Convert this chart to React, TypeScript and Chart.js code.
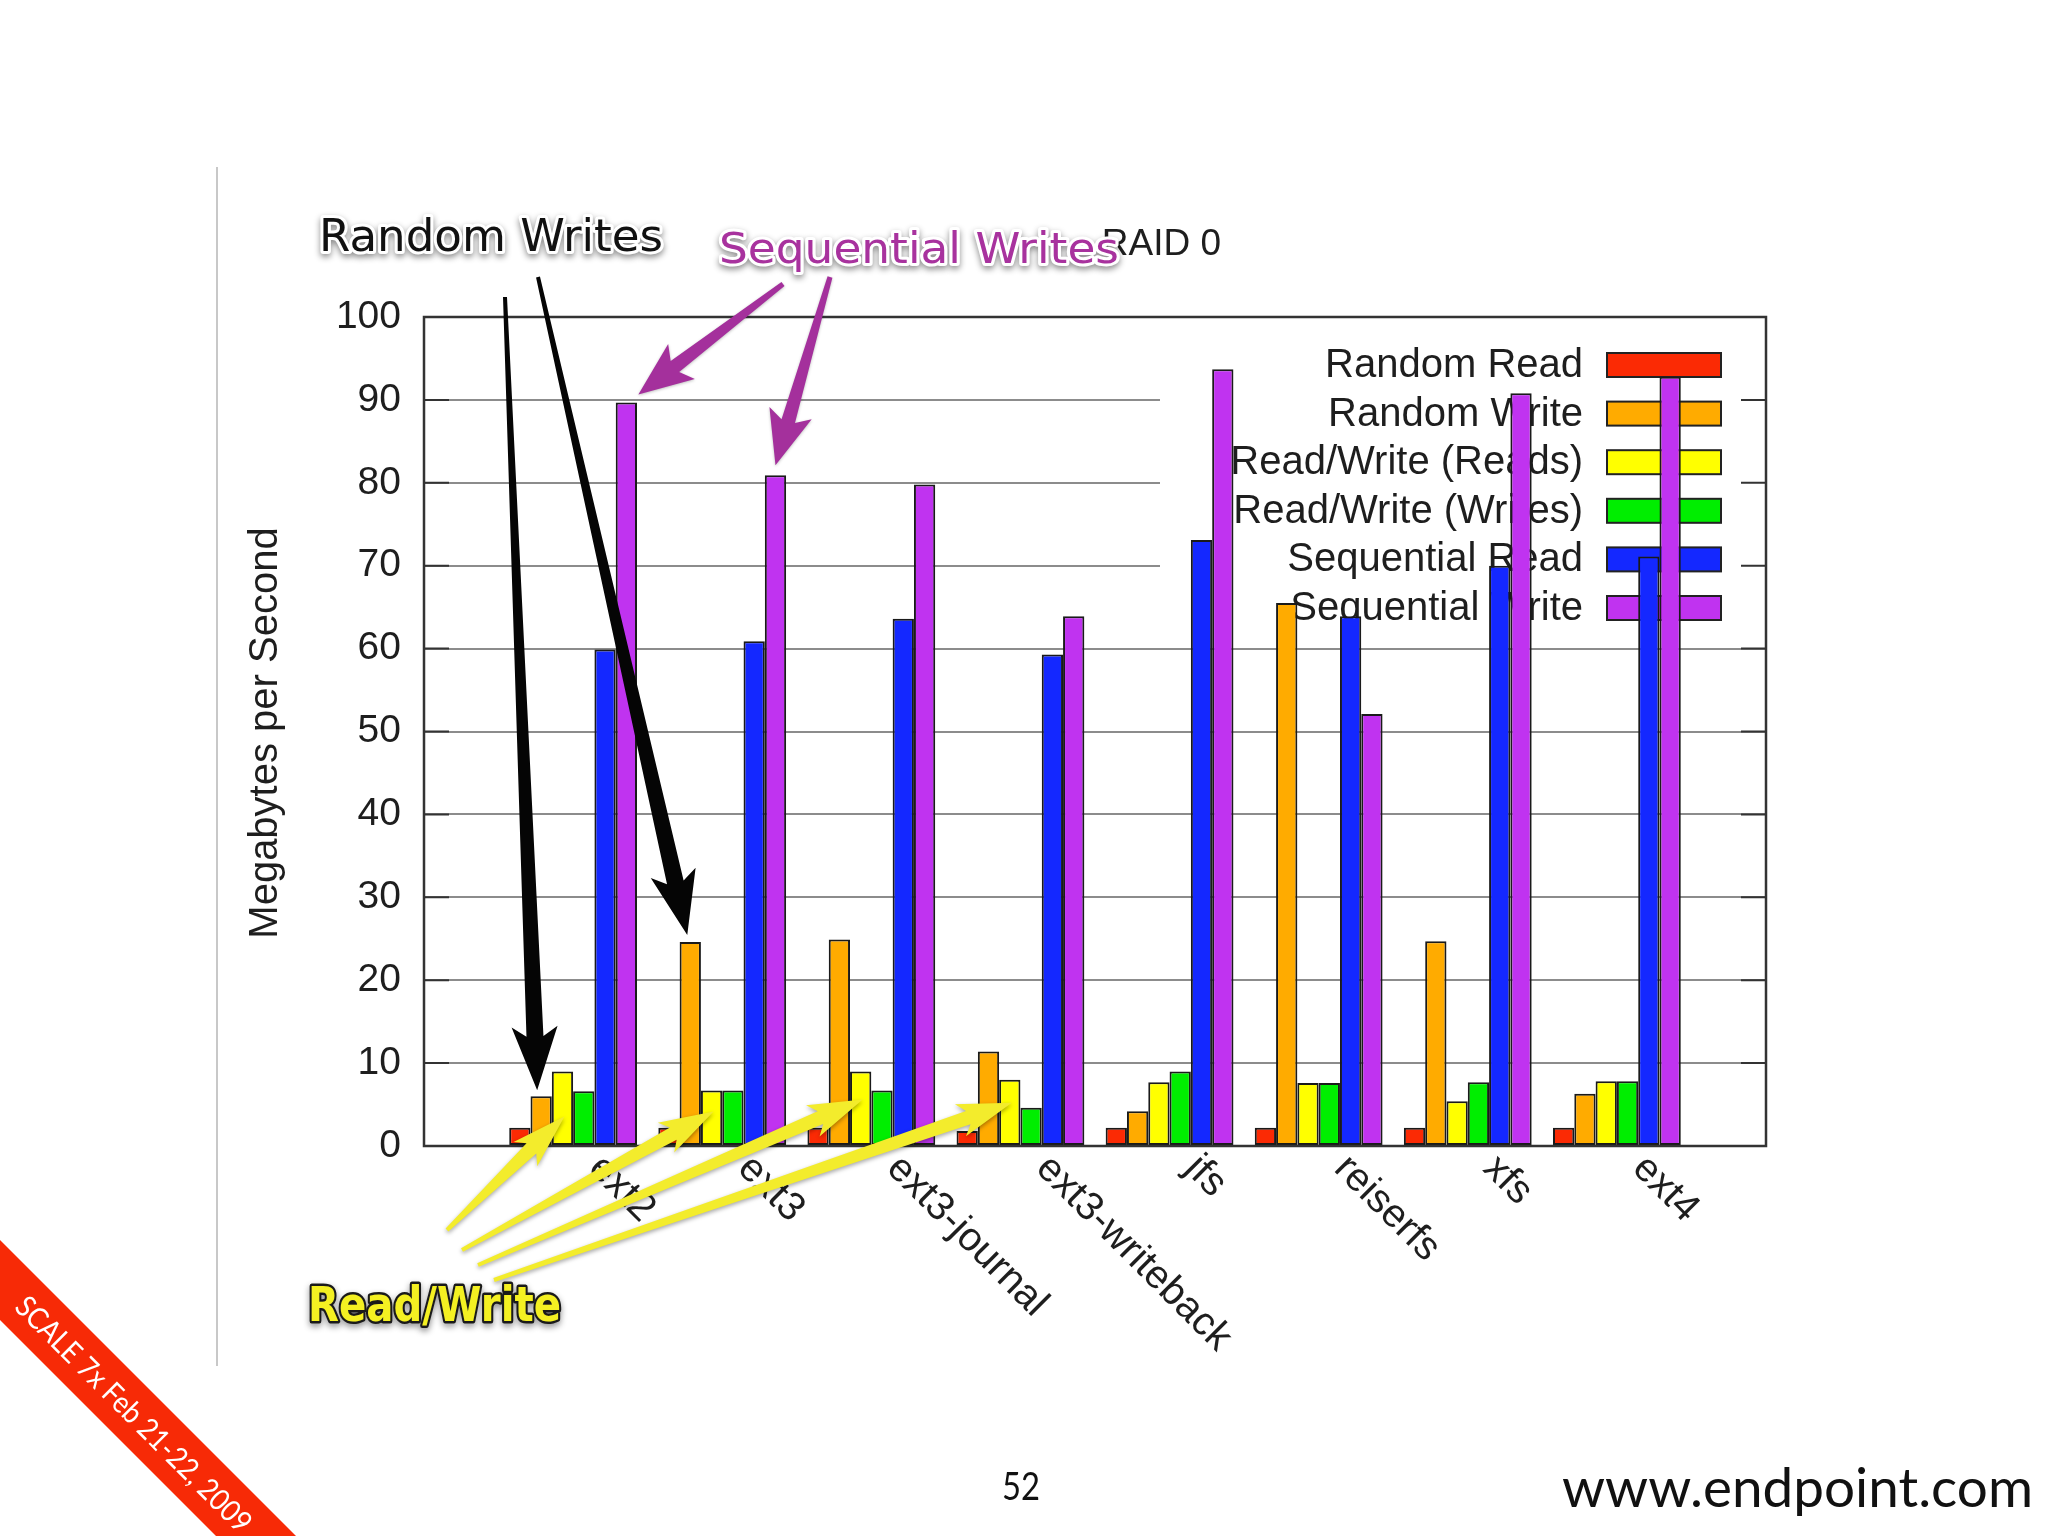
import React, { useEffect, useRef } from 'react';
import { Chart, registerables } from 'chart.js';
Chart.register(...registerables);

// ---- data ----
const categories = ['ext2', 'ext3', 'ext3-journal', 'ext3-writeback', 'jfs', 'reiserfs', 'xfs', 'ext4'];
const seriesNames = ['Random Read', 'Random Write', 'Read/Write (Reads)', 'Read/Write (Writes)', 'Sequential Read', 'Sequential Write'];
const randomRead = [2.2, 2.2, 2.2, 1.8, 2.2, 2.2, 2.2, 2.2];
const randomWrite = [6.0, 24.6, 24.9, 11.4, 4.2, 65.5, 24.7, 6.3];
const rwReads = [9.0, 6.7, 9.0, 8.0, 7.7, 7.6, 5.4, 7.8];
const rwWrites = [6.6, 6.7, 6.7, 4.6, 9.0, 7.6, 7.7, 7.8];
const seqRead = [59.9, 60.9, 63.6, 59.3, 73.1, 63.9, 70.0, 71.1];
const seqWrite = [89.7, 80.9, 79.8, 63.9, 93.7, 52.1, 90.8, 92.8];
const yTickValues = [0, 10, 20, 30, 40, 50, 60, 70, 80, 90, 100];
const chartTitle = 'RAID 0';
const yTitle = 'Megabytes per Second';

const seriesValues = [randomRead, randomWrite, rwReads, rwWrites, seqRead, seqWrite];
const seriesColors = ['#fb2a04', '#ffab00', '#ffff00', '#00ee00', '#1428ff', '#c033f0'];

const FONT = '"Liberation Sans", Arial, Helvetica, sans-serif';
const ANNOT = '"DejaVu Sans", Verdana, sans-serif';
const SLIDE = 'Lato, "Open Sans", sans-serif';

function fitText(ctx: CanvasRenderingContext2D, text: string, x: number, y: number, width: number, mode: 'fill' | 'stroke' = 'fill') {
  const w = ctx.measureText(text).width;
  const sx = width / w;
  ctx.save();
  ctx.translate(x, y);
  ctx.scale(sx, 1);
  ctx.textAlign = 'left';
  if (mode === 'fill') ctx.fillText(text, 0, 0);
  else ctx.strokeText(text, 0, 0);
  ctx.restore();
}

function arrowPath(ctx: CanvasRenderingContext2D, tx: number, ty: number, hx: number, hy: number, w0: number, w1: number, headW: number, headL: number) {
  const dx = hx - tx, dy = hy - ty;
  const len = Math.hypot(dx, dy);
  const ux = dx / len, uy = dy / len;
  const nx = -uy, ny = ux;
  const bx = hx - ux * headL, by = hy - uy * headL;
  const notch = headL * 0.18;
  ctx.beginPath();
  ctx.moveTo(tx + nx * w0 / 2, ty + ny * w0 / 2);
  ctx.lineTo(bx + nx * w1 / 2, by + ny * w1 / 2);
  ctx.lineTo(bx - ux * notch + nx * headW / 2, by - uy * notch + ny * headW / 2);
  ctx.lineTo(hx, hy);
  ctx.lineTo(bx - ux * notch - nx * headW / 2, by - uy * notch - ny * headW / 2);
  ctx.lineTo(bx - nx * w1 / 2, by - ny * w1 / 2);
  ctx.lineTo(tx - nx * w0 / 2, ty - ny * w0 / 2);
  ctx.closePath();
}

const decorPlugin = {
  id: 'decor',
  beforeDraw(chart: any) {
    const ctx = chart.ctx as CanvasRenderingContext2D;
    ctx.save();
    ctx.fillStyle = '#ffffff';
    ctx.fillRect(0, 0, chart.width, chart.height);
    ctx.strokeStyle = '#c8c8c8';
    ctx.lineWidth = 2;
    ctx.beginPath();
    ctx.moveTo(217, 167);
    ctx.lineTo(217, 1366);
    ctx.stroke();
    ctx.restore();
  },
  beforeDatasetsDraw(chart: any) {
    const ctx = chart.ctx as CanvasRenderingContext2D;
    const a = chart.chartArea;
    const ys = chart.scales.y;
    ctx.save();
    // opaque key box
    ctx.fillStyle = '#ffffff';
    ctx.fillRect(1160, a.top + 1, a.right - 1160 - 1, ys.getPixelForValue(62) - a.top);
    // inward tick marks on both sides
    ctx.strokeStyle = '#333';
    ctx.lineWidth = 2;
    yTickValues.forEach((v) => {
      const y = ys.getPixelForValue(v);
      ctx.beginPath();
      ctx.moveTo(a.left, y);
      ctx.lineTo(a.left + 25, y);
      ctx.moveTo(a.right - 25, y);
      ctx.lineTo(a.right, y);
      ctx.stroke();
    });
    // legend
    ctx.font = `40px ${FONT}`;
    ctx.textAlign = 'right';
    ctx.textBaseline = 'middle';
    seriesNames.forEach((name, i) => {
      const cy = 365 + i * 48.6;
      ctx.fillStyle = '#1e1e1e';
      ctx.fillText(name, 1583, cy + 1);
      ctx.fillStyle = seriesColors[i];
      ctx.fillRect(1607, cy - 12, 114, 24);
      ctx.strokeStyle = '#222';
      ctx.lineWidth = 2;
      ctx.strokeRect(1607, cy - 12, 114, 24);
    });
    ctx.restore();
  },
  afterDatasetsDraw(chart: any) {
    const ctx = chart.ctx as CanvasRenderingContext2D;
    const a = chart.chartArea;
    ctx.save();
    ctx.strokeStyle = '#333';
    ctx.lineWidth = 2.5;
    ctx.strokeRect(a.left, a.top, a.right - a.left, a.bottom - a.top);
    ctx.restore();
  },
  afterDraw(chart: any) {
    const ctx = chart.ctx as CanvasRenderingContext2D;
    const a = chart.chartArea;
    const xs = chart.scales.x;
    ctx.save();
    // x category labels, rotated
    ctx.font = `40px ${FONT}`;
    ctx.fillStyle = '#1e1e1e';
    ctx.textAlign = 'left';
    ctx.textBaseline = 'alphabetic';
    categories.forEach((c, i) => {
      const cx = xs.getPixelForValue(i);
      ctx.save();
      ctx.translate(cx + 14, a.bottom + 24);
      ctx.rotate(Math.PI / 4);
      ctx.fillText(c, 0, 0);
      ctx.restore();
    });
    // y title
    ctx.save();
    ctx.translate(266, 733);
    ctx.rotate(-Math.PI / 2);
    ctx.textAlign = 'center';
    ctx.textBaseline = 'middle';
    ctx.fillText(yTitle, 0, 0);
    ctx.restore();
    // chart title
    ctx.font = `37px ${FONT}`;
    ctx.textAlign = 'right';
    ctx.fillText(chartTitle, 1221, 255);

    const bar = (d: number, i: number) => chart.getDatasetMeta(d).data[i];

    // yellow arrows
    const yTails = [[447, 1230], [462, 1250], [478, 1265], [494, 1280]];
    const yDy = [45, 21, 28, 23];
    yTails.forEach((t, i) => {
      const b = bar(2, i);
      ctx.save();
      ctx.shadowColor = 'rgba(0,0,0,0.35)';
      ctx.shadowBlur = 4;
      ctx.shadowOffsetY = 2;
      arrowPath(ctx, t[0], t[1], b.x + 2, b.y + yDy[i], 4, 14, 34, 46);
      ctx.fillStyle = '#f3ec2c';
      ctx.fill();
      ctx.restore();
    });

    // black arrows
    const bTails = [[505, 297], [538, 277]];
    const bOff = [[-4, -6], [-3, -7]];
    bTails.forEach((t, i) => {
      const b = bar(1, i);
      arrowPath(ctx, t[0], t[1], b.x + bOff[i][0], b.y + bOff[i][1], 4, 17, 46, 54);
      ctx.fillStyle = '#050505';
      ctx.fill();
    });

    // purple arrows
    const pTails = [[783, 284], [830, 277]];
    const pOff = [[12, -8], [0, -10]];
    pTails.forEach((t, i) => {
      const b = bar(5, i);
      ctx.save();
      ctx.shadowColor = 'rgba(0,0,0,0.25)';
      ctx.shadowBlur = 3;
      ctx.shadowOffsetY = 1;
      arrowPath(ctx, t[0], t[1], b.x + pOff[i][0], b.y + pOff[i][1], 5, 14, 44, 46);
      ctx.fillStyle = '#a4309c';
      ctx.fill();
      ctx.restore();
    });

    // annotation texts
    const halo = (text: string, x: number, y: number, w: number, font: string, fill: string, stroke: string, sw: number) => {
      ctx.font = font;
      ctx.textBaseline = 'alphabetic';
      ctx.save();
      ctx.shadowColor = 'rgba(0,0,0,0.45)';
      ctx.shadowBlur = 6;
      ctx.shadowOffsetY = 3;
      ctx.lineJoin = 'round';
      ctx.strokeStyle = stroke;
      ctx.lineWidth = sw;
      fitText(ctx, text, x, y, w, 'stroke');
      ctx.restore();
      ctx.fillStyle = fill;
      fitText(ctx, text, x, y, w, 'fill');
    };
    halo('Random Writes', 319, 251, 344, `45px ${ANNOT}`, '#111', '#ffffff', 6);
    halo('Sequential Writes', 719, 263, 400, `43px ${ANNOT}`, '#a8329e', '#ffffff', 6);
    halo('Read/Write', 308, 1321, 253, `bold 48px ${ANNOT}`, '#f4f022', '#1a1a1a', 5);

    // slide decorations: red ribbon
    ctx.beginPath();
    ctx.moveTo(0, 1240);
    ctx.lineTo(296, 1536);
    ctx.lineTo(216, 1536);
    ctx.lineTo(0, 1320);
    ctx.closePath();
    ctx.fillStyle = '#f72a06';
    ctx.fill();
    ctx.save();
    ctx.translate(134, 1414);
    ctx.rotate(Math.PI / 4);
    ctx.font = `30px ${SLIDE}`;
    ctx.fillStyle = '#ffffff';
    ctx.textBaseline = 'middle';
    fitText(ctx, 'SCALE 7x Feb 21-22, 2009', -160, 1, 320);
    ctx.restore();

    // page number and url
    ctx.fillStyle = '#111';
    ctx.textBaseline = 'alphabetic';
    ctx.font = `38px ${SLIDE}`;
    fitText(ctx, '52', 1002, 1500, 38);
    ctx.font = `55px ${SLIDE}`;
    fitText(ctx, 'www.endpoint.com', 1562, 1507, 471);
    ctx.restore();
  },
};

export default function App() {
  const ref = useRef<HTMLCanvasElement | null>(null);
  useEffect(() => {
    const canvas = ref.current;
    if (!canvas) return;
    const chart = new Chart(canvas, {
      type: 'bar',
      data: {
        datasets: seriesNames.map((name, d) => ({
          label: name,
          data: seriesValues[d].map((v, i) => ({ x: i, y: v })),
          backgroundColor: seriesColors[d],
          borderColor: '#1a1a1a',
          borderWidth: 2,
          borderSkipped: false,
          categoryPercentage: 6 / 7,
          barPercentage: 1,
        })),
      },
      options: {
        responsive: false,
        animation: false,
        devicePixelRatio: 1,
        layout: { padding: { left: 0, top: 317, right: 282, bottom: 0 } },
        plugins: { legend: { display: false }, tooltip: { enabled: false }, title: { display: false } },
        scales: {
          x: {
            type: 'linear',
            min: -1,
            max: 8,
            offset: false,
            ticks: { display: false },
            grid: { display: false },
            border: { display: true, color: '#333', width: 2 },
            afterFit: (s: any) => { s.height = 390; },
          },
          y: {
            min: 0,
            max: 100,
            afterBuildTicks: (s: any) => { s.ticks = yTickValues.map((v) => ({ value: v })); },
            ticks: { font: { family: FONT, size: 39 }, color: '#1e1e1e', padding: 23 },
            grid: { color: '#8c8c8c', lineWidth: 2, drawTicks: false },
            border: { display: true, color: '#333', width: 2 },
            afterFit: (s: any) => { s.width = 424; },
          },
        },
      },
      plugins: [decorPlugin],
    } as any);
    return () => chart.destroy();
  }, []);
  return (
    <div style={{ position: 'absolute', left: 0, top: 0, width: 2048, height: 1536, background: '#fff' }}>
      <canvas ref={ref} width={2048} height={1536} style={{ display: 'block', width: 2048, height: 1536 }} />
    </div>
  );
}
